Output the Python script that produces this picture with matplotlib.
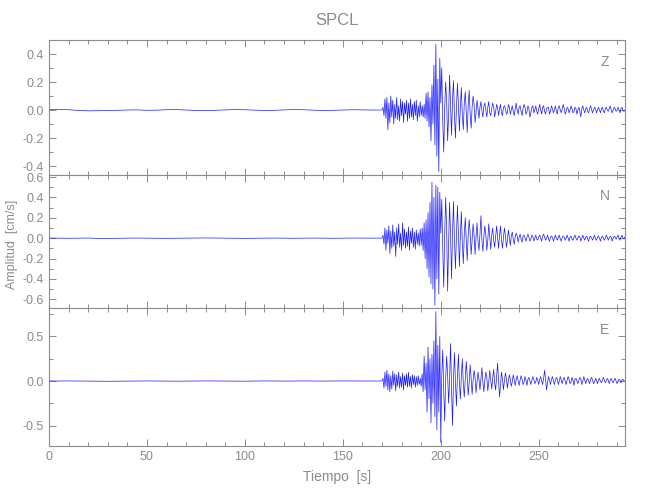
import matplotlib
matplotlib.use('Agg')
import matplotlib.pyplot as plt
from matplotlib.ticker import MultipleLocator, FormatStrFormatter
import numpy as np

plt.rcParams['font.family'] = ['Liberation Sans', 'DejaVu Sans']

gray = '#8c8c8c'

# quiet part before arrival, one value every 5 s (0 .. 165 s)
quiet_step = 5.0
z_quiet = [0.004, 0.003, 0.002, -0.003, -0.006, -0.005, -0.004, -0.002, 0.000, 0.001,
           -0.002, -0.001, 0.002, 0.003, 0.000, -0.003, -0.004, -0.002, 0.001, 0.003,
           0.002, -0.001, -0.003, -0.002, 0.001, 0.003, 0.002, -0.001, -0.003, -0.002,
           0.000, 0.002, 0.001, 0.000]
n_quiet = [0.001, 0.000, -0.001, 0.000, 0.001, -0.002, -0.003, -0.001, 0.000, 0.001,
           0.000, -0.001, -0.002, -0.001, 0.000, 0.001, 0.002, 0.001, 0.000, -0.001,
           -0.002, -0.001, 0.000, 0.001, 0.000, -0.001, 0.000, 0.001, 0.000, -0.001,
           0.000, 0.001, 0.000, 0.000]
e_quiet = [0.001, 0.000, 0.001, 0.000, -0.001, -0.002, -0.003, -0.002, -0.001, 0.000,
           0.001, 0.000, -0.001, -0.002, -0.001, 0.000, 0.001, 0.000, -0.002, -0.003,
           -0.002, 0.000, 0.001, 0.000, -0.001, 0.000, 0.001, 0.000, -0.001, 0.000,
           0.001, 0.000, 0.000, 0.000]

# signal part from 170 s, one value every 0.5 s
sig_start = 170.0
sig_step = 0.5
z_sig = [
    0.00, 0.02, -0.04, 0.08, -0.06, 0.09, -0.14, 0.05, -0.09, 0.10, -0.05, 0.07, -0.10, 0.04, -0.06, 0.09, -0.07, 0.03, -0.08, 0.08,
    -0.04, 0.06, -0.09, 0.05, -0.03, 0.07, -0.08, 0.05, -0.06, 0.08, -0.05, 0.04, -0.07, 0.06, -0.04, 0.07, -0.08, 0.03, -0.05, 0.06,
    -0.04, 0.03, -0.05, 0.04, -0.06, 0.12, -0.08, 0.13, -0.12, 0.09, -0.22, 0.18, -0.10, 0.32, -0.25, 0.47, -0.33, 0.22, -0.44, 0.37,
    0.05, 0.30, -0.08, -0.30, 0.02, 0.20, 0.06, -0.22, -0.04, 0.25, 0.03, -0.18, 0.08, 0.21, -0.05, -0.20, 0.02, 0.19, 0.04, -0.15,
    0.03, 0.16, -0.04, -0.14, 0.05, 0.13, -0.02, -0.16, 0.04, 0.14, -0.03, -0.13, 0.02, 0.10, 0.04, -0.09, -0.02, 0.07, 0.01, -0.06,
    0.02, 0.06, -0.01, -0.05, 0.03, 0.05, 0.00, -0.05, 0.02, 0.06, -0.02, -0.04, 0.01, 0.05, 0.02, -0.05, -0.01, 0.04, 0.02, -0.04,
    0.01, 0.04, -0.02, -0.04, 0.02, 0.03, 0.01, -0.03, -0.02, 0.04, 0.02, -0.03, 0.00, 0.03, -0.01, -0.04, 0.01, 0.05, 0.00, -0.03,
    0.02, 0.03, -0.01, -0.04, 0.01, 0.04, 0.02, -0.03, -0.01, 0.03, 0.01, -0.05, -0.02, 0.02, 0.03, -0.02, 0.00, 0.03, -0.01, -0.03,
    0.01, 0.04, 0.00, -0.03, 0.02, 0.03, -0.01, -0.03, 0.01, 0.02, 0.02, -0.03, -0.01, 0.03, 0.01, -0.02, 0.00, 0.03, -0.01, -0.03,
    0.02, 0.03, 0.00, -0.02, 0.01, 0.04, 0.01, -0.03, -0.01, 0.02, 0.01, -0.02, 0.00, 0.03, 0.01, -0.02, -0.01, 0.02, 0.01, -0.03,
    0.00, 0.02, -0.01, -0.05, 0.01, 0.03, 0.00, -0.02, 0.01, 0.02, -0.01, -0.02, 0.01, 0.03, 0.00, -0.02, 0.00, 0.02, 0.01, -0.02,
    0.00, 0.02, 0.00, -0.02, 0.01, 0.02, -0.01, -0.02, 0.01, 0.02, 0.00, -0.01, 0.01, 0.03, 0.00, -0.02, 0.00, 0.02, 0.01, -0.01,
    0.00, 0.02, 0.00, -0.02, 0.01, 0.02, 0.00, -0.01, 0.00]
n_sig = [
    0.00, 0.03, -0.06, 0.10, -0.12, 0.08, -0.05, 0.12, -0.15, 0.07, -0.10, 0.13, -0.08, 0.06, -0.18, 0.10, -0.06, 0.14, -0.09, 0.05,
    -0.12, 0.15, -0.07, 0.09, -0.10, 0.06, -0.08, 0.11, -0.12, 0.07, -0.05, 0.10, -0.09, 0.06, -0.11, 0.08, -0.06, 0.05, -0.08, 0.09,
    -0.07, 0.10, -0.12, 0.15, -0.20, 0.18, -0.30, 0.25, -0.38, 0.35, -0.45, 0.55, -0.50, 0.40, -0.66, 0.52, -0.40, 0.50, -0.55, 0.45,
    0.05, 0.38, -0.10, -0.48, 0.04, 0.40, 0.08, -0.52, -0.05, 0.35, 0.02, -0.40, 0.06, 0.36, -0.04, -0.30, 0.03, 0.32, 0.05, -0.28,
    0.02, 0.26, -0.05, -0.25, 0.04, 0.20, -0.02, -0.22, 0.03, 0.18, 0.05, -0.16, -0.02, 0.14, 0.03, -0.16, 0.01, 0.15, -0.03, -0.12,
    0.04, 0.22, -0.02, -0.13, 0.02, 0.12, 0.03, -0.12, -0.02, 0.14, 0.01, -0.11, 0.03, 0.10, -0.02, -0.09, 0.02, 0.12, 0.01, -0.10,
    0.03, 0.12, -0.02, -0.10, 0.01, 0.10, 0.03, -0.09, -0.02, 0.08, 0.01, -0.07, 0.02, 0.06, -0.01, -0.06, 0.01, 0.05, 0.02, -0.04,
    0.01, 0.04, -0.01, -0.04, 0.02, 0.03, 0.00, -0.03, 0.01, 0.04, 0.01, -0.03, -0.01, 0.03, 0.02, -0.03, 0.00, 0.03, -0.01, -0.02,
    0.01, 0.03, 0.00, -0.03, 0.02, 0.04, 0.01, -0.02, 0.00, 0.03, -0.01, -0.03, 0.01, 0.02, 0.01, -0.03, 0.00, 0.03, 0.00, -0.02,
    0.01, 0.03, -0.01, -0.03, 0.01, 0.02, 0.01, -0.02, 0.00, 0.03, 0.00, -0.03, 0.01, 0.02, -0.01, -0.02, 0.01, 0.03, 0.00, -0.02,
    0.00, 0.02, 0.01, -0.03, 0.00, 0.03, 0.00, -0.02, 0.01, 0.02, -0.01, -0.03, 0.01, 0.02, 0.00, -0.02, 0.01, 0.03, -0.01, -0.02,
    0.01, 0.02, 0.00, -0.03, 0.01, 0.02, 0.00, -0.02, 0.00, 0.03, 0.01, -0.02, 0.00, 0.02, 0.01, -0.03, 0.00, 0.02, 0.01, -0.01,
    0.01, 0.03, 0.00, -0.02, 0.01, 0.03, 0.00, -0.01, 0.01]
e_sig = [
    0.00, 0.03, -0.08, 0.10, -0.06, 0.12, -0.10, 0.08, -0.12, 0.06, -0.09, 0.11, -0.05, 0.08, -0.11, 0.07, -0.06, 0.10, -0.08, 0.05,
    -0.07, 0.09, -0.10, 0.06, -0.05, 0.08, -0.07, 0.10, -0.06, 0.05, -0.08, 0.07, -0.04, 0.06, -0.07, 0.05, -0.05, 0.06, -0.04, 0.03,
    -0.06, 0.08, -0.12, 0.28, -0.10, 0.20, -0.35, 0.38, -0.20, 0.25, -0.47, 0.30, -0.25, 0.45, -0.40, 0.78, -0.55, 0.40, -0.35, 0.50,
    -0.69, 0.05, 0.35, -0.10, -0.45, 0.03, 0.28, 0.06, -0.25, 0.02, 0.42, -0.08, -0.50, 0.04, 0.32, -0.03, -0.28, 0.05, 0.30, -0.02,
    -0.20, 0.04, 0.25, -0.03, -0.18, 0.02, 0.22, 0.05, -0.16, -0.02, 0.18, 0.03, -0.15, 0.01, 0.12, 0.04, -0.13, -0.02, 0.10, 0.02,
    -0.10, 0.03, 0.15, -0.02, -0.12, 0.01, 0.10, 0.04, -0.11, -0.01, 0.12, 0.02, -0.09, 0.03, 0.13, -0.02, -0.10, 0.05, 0.20, 0.02,
    -0.18, -0.04, 0.10, 0.02, -0.10, 0.01, 0.09, 0.03, -0.08, 0.00, 0.07, 0.02, -0.06, -0.01, 0.07, 0.01, -0.05, 0.02, 0.06, 0.00,
    -0.05, 0.01, 0.06, 0.02, -0.04, -0.01, 0.05, 0.01, -0.05, 0.02, 0.04, 0.00, -0.04, 0.01, 0.05, 0.02, -0.03, -0.01, 0.04, 0.01,
    -0.04, 0.02, 0.05, 0.00, -0.04, 0.03, 0.12, 0.02, -0.10, -0.02, 0.05, 0.01, -0.04, 0.02, 0.05, 0.00, -0.04, 0.01, 0.04, 0.02,
    -0.04, 0.00, 0.05, 0.01, -0.03, 0.02, 0.04, 0.00, -0.04, 0.01, 0.05, 0.02, -0.03, -0.01, 0.04, 0.01, -0.05, 0.02, 0.03, 0.00,
    -0.03, 0.01, 0.04, 0.02, -0.04, 0.00, 0.05, 0.01, -0.03, 0.01, 0.03, 0.00, -0.03, 0.02, 0.04, 0.01, -0.03, -0.01, 0.03, 0.01,
    -0.03, 0.01, 0.03, 0.00, -0.02, 0.01, 0.04, 0.01, -0.02, 0.00, 0.03, 0.01, -0.03, 0.01, 0.03, 0.00, -0.02, 0.01, 0.03, 0.00,
    -0.03, 0.00, 0.02, 0.01, -0.02, 0.01, 0.02, 0.00, 0.00]

components = ['Z', 'N', 'E']
quiet = [z_quiet, n_quiet, e_quiet]
signal = [z_sig, n_sig, e_sig]
ylims = [(-0.464, 0.5), (-0.686, 0.62), (-0.73, 0.82)]
ymajor = [0.2, 0.2, 0.5]
yminor = [0.1, 0.1, 0.25]

# panel boxes in figure fractions (left, bottom, width, height)
boxes = [(0.0754, 0.65, 0.886, 0.27),
         (0.0754, 0.384, 0.886, 0.266),
         (0.0754, 0.108, 0.886, 0.276)]

fig = plt.figure(figsize=(6.5, 5), dpi=100)
axes = []
for i in range(3):
    ax = fig.add_axes(boxes[i])
    tq = np.arange(len(quiet[i])) * quiet_step
    ts = sig_start + np.arange(len(signal[i])) * sig_step
    t = np.concatenate([tq, ts])
    y = np.concatenate([quiet[i], signal[i]])
    ax.plot(t, y, color='#1a1aff', lw=0.5)
    ax.set_xlim(0, 294)
    ax.set_ylim(*ylims[i])
    ax.xaxis.set_major_locator(MultipleLocator(50))
    ax.xaxis.set_minor_locator(MultipleLocator(10))
    ax.yaxis.set_major_locator(MultipleLocator(ymajor[i]))
    ax.yaxis.set_minor_locator(MultipleLocator(yminor[i]))
    ax.tick_params(which='both', direction='in', top=True, right=True,
                   color=gray, labelcolor=gray, labelsize=9)
    ax.tick_params(which='major', length=5, width=0.7)
    ax.tick_params(which='minor', length=3, width=0.7)
    ax.tick_params(axis='y', pad=4)
    for sp in ax.spines.values():
        sp.set_color(gray)
        sp.set_linewidth(0.8)
    if i < 2:
        ax.tick_params(axis='x', labelbottom=False)
    ax.yaxis.set_major_formatter(FormatStrFormatter('%.1f'))
    ax.text(0.965, 0.84, components[i], transform=ax.transAxes, color=gray,
            fontsize=10, ha='center', va='center')
    axes.append(ax)

axes[0].set_title('SPCL', color=gray, fontsize=12, pad=11)
axes[1].set_ylabel('Amplitud  [cm/s]', color=gray, fontsize=9)
axes[1].yaxis.set_label_coords(-0.054, 0.48)
axes[2].set_xlabel('Tiempo  [s]', color=gray, fontsize=10, labelpad=5)

fig.savefig('out.png', dpi=100)
